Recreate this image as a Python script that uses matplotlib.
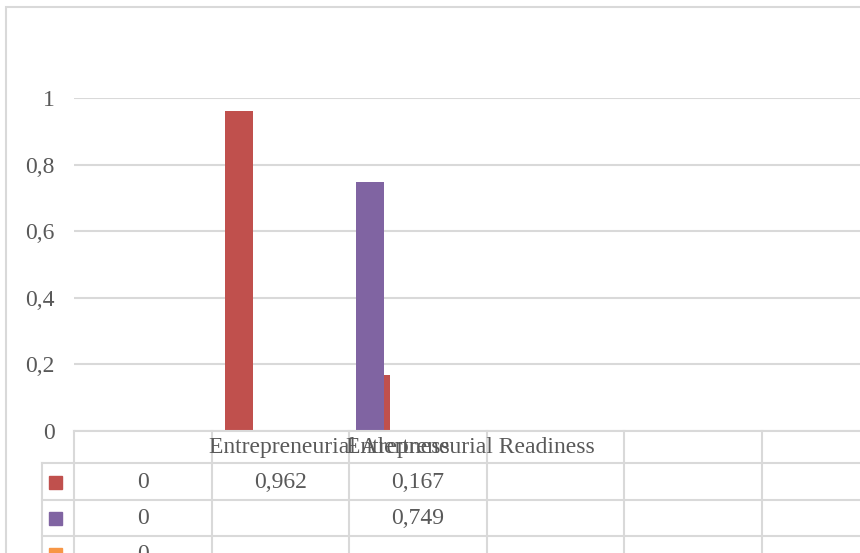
import numpy as np
import matplotlib
matplotlib.use("Agg")
from matplotlib import pyplot as plt
from matplotlib.patches import Rectangle
from matplotlib.transforms import blended_transform_factory, offset_copy
from matplotlib.ticker import FuncFormatter

# data table of the chart (one column per category)
categories = ["", "Entrepreneurial Alertness", "Entrepreneurial Readiness", "", "", ""]
series_red = [0, 0.962, 0.167, np.nan, np.nan, np.nan]
series_purple = [0, np.nan, 0.749, np.nan, np.nan, np.nan]
series_orange = [0, np.nan, np.nan, np.nan, np.nan, np.nan]
y_ticks = [0, 0.2, 0.4, 0.6, 0.8, 1]

colors = ["#C0504D", "#8064A2", "#F79646"]
offsets = [-0.30, -0.35, -0.25]
grey = "#D9D9D9"
text_col = "#595959"
fs = 17

plt.rcParams["font.family"] = ["Liberation Serif", "DejaVu Serif"]

W, H = 860, 553
fig = plt.figure(figsize=(W / 100, H / 100), dpi=100)

# plot area in pixels: left 74, x axis at 431, value 1 at 98
col_w = 137.6
ax_left, ax_bottom, ax_top = 74, 431, 98
ax = fig.add_axes([ax_left / W, 1 - ax_bottom / H, (W - ax_left) / W, (ax_bottom - ax_top) / H])
ax.set_xlim(-0.5, -0.5 + (W - ax_left) / col_w)
ax.set_ylim(0, 1)

x = np.arange(len(categories))
all_series = [series_red, series_purple, series_orange]
for vals, c, off in zip(all_series, colors, offsets):
    v = np.array(vals, dtype=float)
    m = ~np.isnan(v) & (v > 0)
    ax.bar(x[m] + off, v[m], width=0.2, color=c, zorder=3)

ax.set_yticks(y_ticks)
ax.yaxis.set_major_formatter(FuncFormatter(
    lambda v, p: "0" if v == 0 else ("1" if v == 1 else f"{v:.1f}".replace(".", ","))))
ax.tick_params(axis="y", length=0, pad=14, labelsize=fs, labelcolor=text_col)
ax.set_xticks([])
ax.grid(axis="y", color=grey, linewidth=1.5, zorder=0)
for s in ax.spines.values():
    s.set_visible(False)

# data table under the axis
tr = blended_transform_factory(ax.transData, fig.transFigure)
def fy(py):
    return 1 - py / H

row_lines = [431, 463, 500, 536]
row_h = 36
rows_bottom = H + 20
n_cols = len(categories)
lw = 1.5

# horizontal lines
for i, py in enumerate(row_lines):
    x0 = ax_left if i == 0 else 42
    fig.add_artist(plt.Line2D([x0 / W, 1.0], [fy(py), fy(py)], color=grey, lw=lw))
# vertical lines
fig.add_artist(plt.Line2D([42 / W, 42 / W], [fy(463), fy(rows_bottom)], color=grey, lw=lw))
for k in range(n_cols + 1):
    xe = k - 0.5
    fig.add_artist(plt.Line2D([xe, xe], [fy(431), fy(rows_bottom)], color=grey, lw=lw,
                              transform=tr))

# header text (left aligned at column edge)
for k, name in enumerate(categories):
    if name:
        t = offset_copy(tr, fig=fig, x=-3, y=0, units="dots")
        fig.text(k - 0.5, fy(447), name, transform=t, ha="left", va="center",
                 fontsize=fs, color=text_col)

# value rows with legend keys
for r, (vals, c) in enumerate(zip(all_series, colors)):
    cy = 463 + row_h / 2 + r * row_h + 1
    fig.add_artist(Rectangle((49 / W, fy(cy + 6.5)), 13 / W, 13 / H, color=c,
                             transform=fig.transFigure))
    for k, v in enumerate(vals):
        if np.isnan(v):
            continue
        s = "0" if v == 0 else f"{v:.3f}".replace(".", ",")
        fig.text(k, fy(cy), s, transform=tr, ha="center", va="center",
                 fontsize=fs, color=text_col)

# chart area border
fig.add_artist(Rectangle((6 / W, -0.1), 1.2, 1 - 7.5 / H + 0.1, fill=False,
                         edgecolor=grey, lw=lw, transform=fig.transFigure))

plt.savefig("out.png", dpi=100)
